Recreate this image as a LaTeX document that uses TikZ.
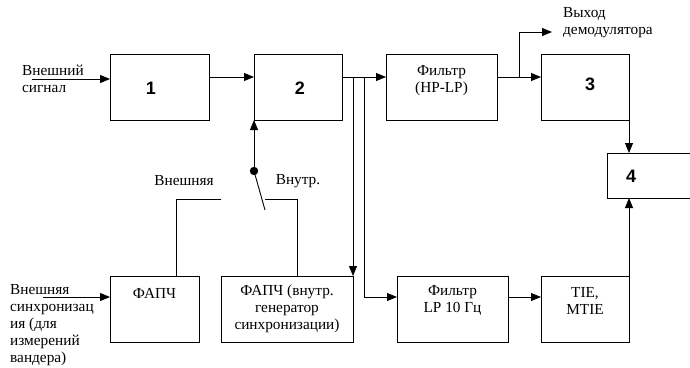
\documentclass[tikz,border=0pt]{standalone}
\usepackage{fontspec}
\setmainfont{Liberation Serif}
\newfontfamily\numfont{Liberation Sans}
\usetikzlibrary{arrows.meta}
\tikzset{
  blk/.style={draw, line width=0.9pt, inner sep=0pt, outer sep=0pt, anchor=north west},
  txt/.style={font=\fontsize{15.3}{17}\selectfont, align=center, inner sep=0pt},
  ltxt/.style={font=\fontsize{15.3}{17}\selectfont, align=left, inner sep=0pt, anchor=west},
  num/.style={font=\numfont\bfseries\fontsize{18}{18}\selectfont, inner sep=0pt},
  ln/.style={line width=0.9pt},
  arr/.style={line width=0.9pt, -{Triangle[length=10pt,width=8pt]}},
}
\begin{document}
\begin{tikzpicture}[x=1pt,y=-1pt]
\useasboundingbox (0,0) rectangle (690,367);
\begin{scope}
\clip (0,0) rectangle (690,367);
% boxes
\node[blk, minimum width=99pt, minimum height=66pt] (b1) at (110,54) {};
\node[blk, minimum width=88pt, minimum height=66pt] (b2) at (254,54) {};
\node[blk, minimum width=111pt, minimum height=66pt] (f1) at (386,54) {};
\node[blk, minimum width=88pt, minimum height=66pt] (b3) at (541,54) {};
\node[blk, minimum width=100pt, minimum height=45pt] (b4) at (607,153) {};
\node[blk, minimum width=89pt, minimum height=66pt] (p1) at (110,276) {};
\node[blk, minimum width=132pt, minimum height=66pt] (p2) at (221,276) {};
\node[blk, minimum width=111pt, minimum height=66pt] (f2) at (397,276) {};
\node[blk, minimum width=88pt, minimum height=66pt] (t) at (541,276) {};
\end{scope}
% box texts
\node[num] (n1) at (151,88) {1};
\node[num] (n2) at (300,88) {2};
\node[num] (n3) at (590,84) {3};
\node[num] (n4) at (631,176) {4};
\node[txt] (tf1) at (441.5,80.5) {Фильтр\\(HP-LP)};
\node[txt] (tp1) at (154.5,293) {ФАПЧ};
\node[txt] (tp2) at (287,309) {ФАПЧ (внутр.\\генератор\\синхронизации)};
\node[txt] (tf2) at (452.5,300.5) {Фильтр\\LP 10 Гц};
\node[txt] (tt) at (585,300.5) {TIE,\\MTIE};
% outside labels
\node[ltxt] (lin) at (22,79) {Внешний\\сигнал};
\node[ltxt] (lout) at (563,23) {Выход\\демодулятора};
\node[ltxt] (lsync) at (10,325) {Внешняя\\синхронизац\\ия (для\\измерений\\вандера)};
\node[txt] (lext) at (184,181) {Внешняя};
\node[txt] (lint) at (298,181) {Внутр.};
% coordinates
\coordinate (in1) at (32,79);
\coordinate (in2) at (43,297);
\coordinate (v1) at (353,77);
\coordinate (v2) at (364,77);
\coordinate (br) at (519,77);
\coordinate (out) at (552,32);
\coordinate (sw) at (254,171);
\coordinate (lev) at (265,210);
\coordinate (cL) at (176,199);
\coordinate (cLe) at (221,199);
\coordinate (cR) at (297,199);
\coordinate (cRs) at (265,199);
% connectors
\draw[arr] (in1) -- (in1 -| b1.west);
\draw[arr] ([yshift=10pt]b1.east) -- ([yshift=10pt]b2.west);
\draw[arr] ([yshift=10pt]b2.east) -- ([yshift=10pt]f1.west);
\draw[arr] (v1) -- (p2.north east);
\draw[arr] (v2) |- ([yshift=12pt]f2.west);
\draw[arr] ([yshift=10pt]f1.east) -- ([yshift=10pt]b3.west);
\draw[arr] (br) |- (out);
\draw[arr] (b3.south east) -- (b3.south east |- b4.north);
\draw[arr] (t.north east) -- (t.north east |- b4.south);
\draw[arr] ([yshift=12pt]f2.east) -- ([yshift=12pt]t.west);
\draw[arr] (in2) -- ([yshift=12pt]p1.west);
% switch
\draw[arr] (sw) -- (b2.south west);
\fill (sw) circle (4.2pt);
\draw[ln] (sw) -- (lev);
\draw[ln] (cLe) -- (cL) -- (cL |- p1.north);
\draw[ln] (cRs) -- (cR) -- (cR |- p2.north);
\end{tikzpicture}
\end{document}
